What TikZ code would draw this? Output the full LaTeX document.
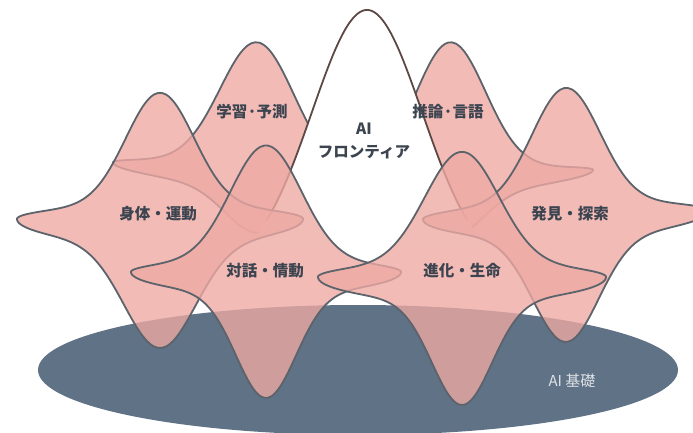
\documentclass[tikz,border=0pt]{standalone}
\usepackage{fontspec}
\newfontfamily\jpfont{Noto Sans CJK JP}
\definecolor{unitpink}{RGB}{238,169,163}
\definecolor{edgegray}{RGB}{92,99,107}
\definecolor{labelgray}{RGB}{60,68,80}
\definecolor{basegray}{RGB}{95,114,134}
\definecolor{basetext}{RGB}{222,226,231}
\definecolor{frontierbrown}{RGB}{92,72,68}
\tikzset{
  unitshape/.style={fill=unitpink, fill opacity=0.79, draw=edgegray, line width=1.8pt, line join=round},
  frontieredge/.style={draw=frontierbrown, line width=1.8pt},
  unitlabel/.style={font=\jpfont\bfseries\fontsize{15.5}{23}\selectfont, text=labelgray},
}
% cx, cy, a, b, peak, dip, peak width, dip width, tilt
\newcommand{\capunit}[9]{%
  \filldraw[unitshape]
    plot[domain=0:180, samples=120, smooth] ({#1+#3*cos(\x)}, {#2+(#9)*#3*cos(\x)-0.55*#4*sin(\x)-#5*exp(-((#3*cos(\x)/#7)^2))})
    -- plot[domain=180:360, samples=120, smooth] ({#1+#3*cos(\x)}, {#2+(#9)*#3*cos(\x)-#4*sin(\x)+#6*exp(-((#3*cos(\x)/#8)^2))})
    -- cycle;}
\begin{document}
\begin{tikzpicture}[x=1pt, y=-1pt]
\useasboundingbox (0,0) rectangle (693,433);
\fill[basegray] (358,370) ellipse [x radius=320, y radius=65];

% back row
\capunit{257}{174}{144}{14}{124}{45}{52}{45}{0.08}
\capunit{450}{180}{143}{14}{130}{45}{50}{45}{-0.07}

% frontier bell
\fill[white] plot[domain=-120:120, samples=100, smooth] ({367+\x}, {270-260*exp(-((\x/78)^2))}) -- cycle;
\draw[frontieredge] plot[domain=-100:100, samples=100, smooth] ({367+\x}, {270-260*exp(-((\x/78)^2))});

% middle row
\capunit{160}{219}{143}{24}{113}{105}{48}{50}{0}
\capunit{566}{215}{143}{22}{115}{105}{48}{46}{-0.03}

% front row
\capunit{266}{272}{135}{21}{115}{105}{50}{42}{0}
\capunit{462}{277}{144}{24}{112}{104}{52}{42}{0}

\node[unitlabel] (gakushu) at (252,112) {学習·予測};
\node[unitlabel] (suiron) at (448,112) {推論·言語};
\node[unitlabel, align=center] (frontier) at (364,141) {AI\\フロンティア};
\node[unitlabel] (shintai) at (158,214) {身体・運動};
\node[unitlabel] (hakken) at (570,214) {発見・探索};
\node[unitlabel] (taiwa) at (265,271) {対話・情動};
\node[unitlabel] (shinka) at (462,271) {進化・生命};
\node[font=\jpfont\fontsize{15}{18}\selectfont, text=basetext] (kiso) at (572,381) {AI 基礎};
\end{tikzpicture}
\end{document}
